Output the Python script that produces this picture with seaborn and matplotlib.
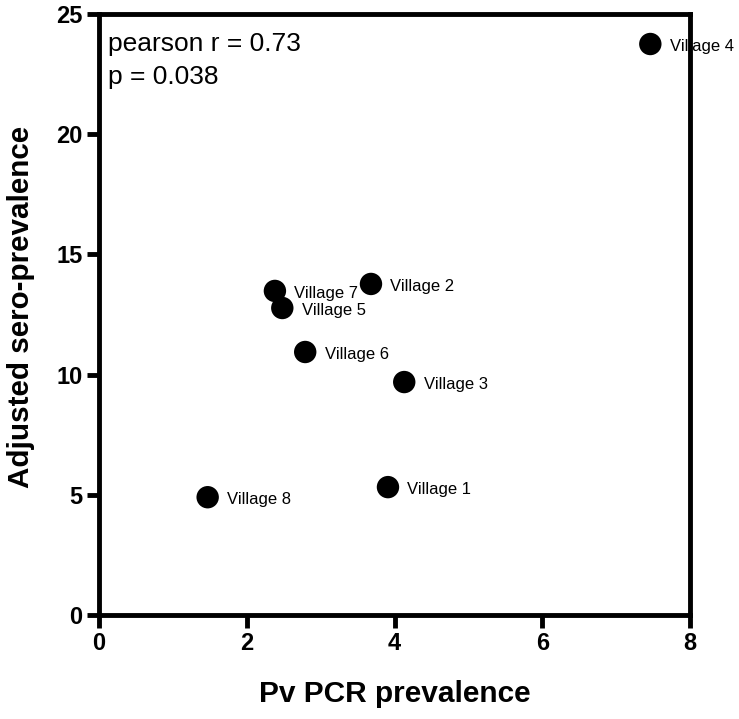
import matplotlib
matplotlib.use("Agg")
import matplotlib.pyplot as plt
import seaborn as sns
import pandas as pd

# values
villages = ["Village 1", "Village 2", "Village 3", "Village 4",
            "Village 5", "Village 6", "Village 7", "Village 8"]
pcr_prev = [3.91, 3.68, 4.13, 7.46, 2.48, 2.79, 2.38, 1.47]
sero_prev = [5.32, 13.77, 9.69, 23.75, 12.77, 10.94, 13.48, 4.90]
x_ticks = [0, 2, 4, 6, 8]
y_ticks = [0, 5, 10, 15, 20, 25]

df = pd.DataFrame({"village": villages, "pcr": pcr_prev, "sero": sero_prev})

sns.set_style("white")
plt.rcParams['font.family'] = ['Liberation Sans', 'DejaVu Sans']
plt.rcParams.update({"text.color": "black", "axes.labelcolor": "black",
                     "xtick.color": "black", "ytick.color": "black"})
bold_font = ['Liberation Sans Narrow', 'Liberation Sans', 'DejaVu Sans']

fig = plt.figure(figsize=(7.39, 7.19), dpi=100)
ax = fig.add_axes([0.134, 0.1446, 0.800, 0.836])

sns.scatterplot(data=df, x="pcr", y="sero", ax=ax, color="black",
                s=260, edgecolor="none", zorder=3, clip_on=False)

# labels next to the dots
for _, row in df.iterrows():
    ax.annotate(row["village"], (row["pcr"], row["sero"]),
                xytext=(14, -1.5), textcoords="offset points",
                ha="left", va="center", fontsize=12, zorder=2,
                color="black", annotation_clip=False)

ax.set_xlim(0, 8)
ax.set_ylim(0, 25)
ax.set_xticks(x_ticks)
ax.set_yticks(y_ticks)
ax.set_xticklabels([str(t) for t in x_ticks], family=bold_font,
                   fontweight="bold", fontsize=17)
ax.set_yticklabels([str(t) for t in y_ticks], family=bold_font,
                   fontweight="bold", fontsize=17)

ax.set_xlabel("Pv PCR prevalence", family=bold_font, fontweight="bold",
              fontsize=21.5, labelpad=18)
ax.set_ylabel("Adjusted sero-prevalence", family=bold_font,
              fontweight="bold", fontsize=21.3)
ax.yaxis.set_label_coords(-0.108, 0.5125)

for sp in ax.spines.values():
    sp.set_visible(True)
    sp.set_linewidth(3.5)
    sp.set_color("black")
    sp.set_zorder(4)

ax.tick_params(axis="both", which="major", direction="out", length=9,
               width=3.5, color="black", pad=3, bottom=True, left=True,
               top=False, right=False)

ax.text(0.016, 0.97, "pearson r = 0.73\np = 0.038", transform=ax.transAxes,
        ha="left", va="top", fontsize=19, linespacing=1.45, color="black")

fig.savefig("out.png", dpi=100)
